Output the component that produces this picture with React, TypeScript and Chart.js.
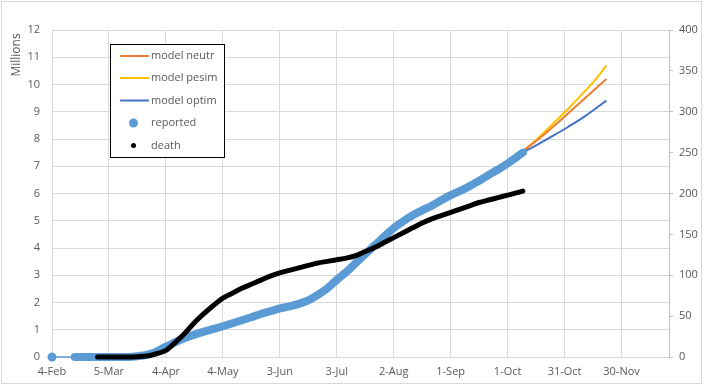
import { useEffect, useRef } from "react";
import { Chart, registerables } from "chart.js";

Chart.register(...registerables);

// x values are days counted from 4-Feb-2020
const xTickLabels = ["4-Feb", "5-Mar", "4-Apr", "4-May", "3-Jun", "3-Jul", "2-Aug", "1-Sep", "1-Oct", "31-Oct", "30-Nov"];
const yTitle = "Millions";

const reportedDays = [0, 12, 20, 30, 35, 40, 45, 50, 55, 60, 65, 70, 75, 80, 85, 90, 95, 100, 105, 110, 115, 120, 125, 130, 135, 140, 145, 150, 155, 160, 165, 170, 175, 180, 185, 190, 195, 200, 205, 210, 215, 220, 225, 230, 235, 240, 245, 248];
const reportedMillions = [0, 0, 0.0001, 0.0002, 0.001, 0.004, 0.03, 0.08, 0.2, 0.38, 0.55, 0.7, 0.82, 0.93, 1.03, 1.13, 1.24, 1.35, 1.46, 1.58, 1.68, 1.78, 1.86, 1.95, 2.08, 2.28, 2.52, 2.83, 3.12, 3.45, 3.78, 4.1, 4.42, 4.73, 4.98, 5.2, 5.38, 5.55, 5.75, 5.94, 6.1, 6.27, 6.47, 6.68, 6.88, 7.1, 7.35, 7.5];

const deathDays = [24, 30, 35, 40, 45, 50, 55, 60, 65, 70, 75, 80, 85, 90, 95, 100, 105, 110, 115, 120, 125, 130, 135, 140, 145, 150, 155, 160, 165, 170, 175, 180, 185, 190, 195, 200, 205, 210, 215, 220, 225, 230, 235, 240, 245, 248];
const deathThousands = [0, 0.01, 0.03, 0.06, 0.4, 1.2, 4, 8, 18, 29, 42, 53, 63, 72, 78, 84, 89, 94, 99, 103, 106, 109, 112, 115, 117, 119, 121, 124, 129, 134, 140, 146, 152, 158, 164, 169, 173, 177, 181, 185, 189, 192, 195, 198, 201, 203];

const modelDays = [248, 256, 264, 272, 280, 288, 292];
const modelNeutr = [7.55, 7.98, 8.45, 8.95, 9.45, 9.95, 10.2];
const modelPesim = [7.55, 8.03, 8.57, 9.12, 9.7, 10.33, 10.7];
const modelOptim = [7.5, 7.8, 8.12, 8.45, 8.8, 9.2, 9.41];

const TEXT = "#595959";
const GRID = "#d9d9d9";
const FONT = "'Open Sans', 'Noto Sans', sans-serif";

const pts = (xs: number[], ys: number[]) => xs.map((x, i) => ({ x, y: ys[i] }));

const decorPlugin = {
  id: "decor",
  afterDraw(chart: any) {
    const ctx = chart.ctx as CanvasRenderingContext2D;
    ctx.save();
    // outer chart border
    ctx.strokeStyle = GRID;
    ctx.lineWidth = 1;
    ctx.strokeRect(1.5, 1.5, 700, 382);

    // axis display-unit title
    ctx.save();
    ctx.translate(17, 55);
    ctx.rotate(-Math.PI / 2);
    ctx.fillStyle = TEXT;
    ctx.font = `12px ${FONT}`;
    ctx.textAlign = "center";
    ctx.textBaseline = "middle";
    ctx.fillText(yTitle, 0, 0);
    ctx.restore();

    // legend box
    const bx = 110.5, by = 44.5, bw = 114, bh = 113;
    ctx.fillStyle = "#ffffff";
    ctx.fillRect(bx, by, bw, bh);
    ctx.strokeStyle = "#000000";
    ctx.lineWidth = 1;
    ctx.strokeRect(bx, by, bw, bh);

    const rows = [56, 78, 100.5, 123, 145.5];
    ctx.font = `11px ${FONT}`;
    ctx.textBaseline = "middle";
    ctx.textAlign = "left";
    chart.data.datasets.forEach((ds: any, i: number) => {
      const y = rows[i];
      if (ds.legendKind === "line") {
        ctx.strokeStyle = ds.borderColor;
        ctx.lineWidth = 2;
        ctx.beginPath();
        ctx.moveTo(120, y);
        ctx.lineTo(149, y);
        ctx.stroke();
      } else {
        ctx.fillStyle = ds.legendDotColor;
        ctx.beginPath();
        ctx.arc(133.5, y, ds.legendDotR, 0, Math.PI * 2);
        ctx.fill();
      }
      ctx.fillStyle = TEXT;
      ctx.fillText(ds.label, 151, y);
    });
    ctx.restore();
  },
};

export default function App() {
  const ref = useRef<HTMLCanvasElement | null>(null);

  useEffect(() => {
    if (!ref.current) return;
    const chart = new Chart(ref.current, {
      type: "line",
      data: {
        datasets: [
          {
            label: "model neutr",
            data: pts(modelDays, modelNeutr),
            borderColor: "#ED7D31",
            borderWidth: 2,
            pointRadius: 0,
            cubicInterpolationMode: "monotone",
            yAxisID: "y",
            order: 3,
            clip: false,
            legendKind: "line",
          } as any,
          {
            label: "model pesim",
            data: pts(modelDays, modelPesim),
            borderColor: "#FFC000",
            borderWidth: 2,
            pointRadius: 0,
            cubicInterpolationMode: "monotone",
            yAxisID: "y",
            order: 4,
            clip: false,
            legendKind: "line",
          } as any,
          {
            label: "model optim",
            data: pts(modelDays, modelOptim),
            borderColor: "#4472C4",
            borderWidth: 2,
            pointRadius: 0,
            cubicInterpolationMode: "monotone",
            yAxisID: "y",
            order: 2,
            clip: false,
            legendKind: "line",
          } as any,
          {
            label: "reported",
            data: pts(reportedDays, reportedMillions),
            borderColor: "#5B9BD5",
            backgroundColor: "#5B9BD5",
            borderWidth: 8,
            borderCapStyle: "round",
            borderJoinStyle: "round",
            cubicInterpolationMode: "monotone",
            pointRadius: (c: any) => (c.dataIndex === 0 ? 4.5 : 0),
            pointBorderWidth: 0,
            pointBackgroundColor: "#5B9BD5",
            segment: {
              borderWidth: (c: any) => (c.p0DataIndex === 0 ? 1.5 : 8),
            },
            yAxisID: "y",
            order: 1,
            clip: false,
            legendKind: "dot",
            legendDotColor: "#5B9BD5",
            legendDotR: 4.5,
          } as any,
          {
            label: "death",
            data: pts(deathDays, deathThousands),
            borderColor: "#000000",
            borderWidth: 5,
            borderCapStyle: "round",
            borderJoinStyle: "round",
            cubicInterpolationMode: "monotone",
            pointRadius: 0,
            yAxisID: "y1",
            order: 0,
            clip: false,
            legendKind: "dot",
            legendDotColor: "#000000",
            legendDotR: 2.5,
          } as any,
        ],
      },
      options: {
        responsive: false,
        animation: false,
        events: [],
        layout: { padding: { top: 30, left: 0, right: 0, bottom: 0 } },
        plugins: {
          legend: { display: false },
          tooltip: { enabled: false },
        },
        scales: {
          x: {
            type: "linear",
            min: 0,
            max: 325,
            afterFit: (s: any) => {
              s.height = 35;
            },
            ticks: {
              stepSize: 30,
              includeBounds: false,
              autoSkip: false,
              maxRotation: 0,
              padding: 8,
              color: TEXT,
              font: { family: FONT, size: 11 },
              callback: (v: any) => {
                const i = Number(v) / 30;
                return Number.isInteger(i) && xTickLabels[i] ? xTickLabels[i] : "";
              },
            },
            grid: { color: GRID, drawTicks: false },
            border: { color: GRID },
          },
          y: {
            type: "linear",
            position: "left",
            min: 0,
            max: 12,
            afterFit: (s: any) => {
              s.width = 52;
            },
            ticks: {
              stepSize: 1,
              padding: 12,
              color: TEXT,
              font: { family: FONT, size: 11 },
            },
            grid: { color: GRID, drawTicks: false },
            border: { color: GRID },
          },
          y1: {
            type: "linear",
            position: "right",
            min: 0,
            max: 400,
            afterFit: (s: any) => {
              s.width = 39;
            },
            ticks: {
              stepSize: 50,
              padding: 6,
              color: TEXT,
              font: { family: FONT, size: 11 },
            },
            grid: { drawOnChartArea: false, drawTicks: true, tickLength: 4, color: "#bfbfbf" },
            border: { color: "#bfbfbf" },
          },
        },
      } as any,
      plugins: [decorPlugin],
    });
    return () => chart.destroy();
  }, []);

  return (
    <div style={{ position: "absolute", left: 0, top: 0, width: 708, height: 392, background: "#fff" }}>
      <canvas ref={ref} width={708} height={392} style={{ display: "block", width: 708, height: 392 }} />
    </div>
  );
}
